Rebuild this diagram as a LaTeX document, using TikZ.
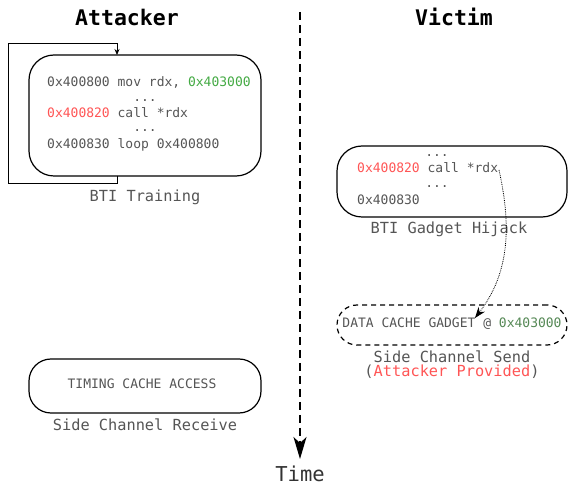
\documentclass[tikz,border=0pt]{standalone}
\usepackage{fontspec}
\setmonofont{DejaVu Sans Mono}
\usetikzlibrary{arrows.meta}
\definecolor{tgray}{HTML}{555555}
\definecolor{tred}{HTML}{FF5555}
\definecolor{tgreen}{HTML}{44AA44}
\definecolor{dgreen}{HTML}{558855}
\tikzset{
  codebox/.style={draw=black, line width=1.2pt, rounded corners=25pt},
  code/.style={font=\ttfamily\fontsize{13}{15}\selectfont, text=tgray, inner sep=0pt, anchor=west},
  codec/.style={font=\ttfamily\fontsize{13}{15}\selectfont, text=tgray, inner sep=0pt},
  lbl/.style={font=\ttfamily\fontsize{15.3}{17}\selectfont, text=tgray, inner sep=0pt},
  title/.style={font=\ttfamily\bfseries\fontsize{21.5}{23}\selectfont, inner sep=0pt},
}
\begin{document}
\begin{tikzpicture}[x=1pt,y=-1pt]
\useasboundingbox (0,0) rectangle (568,486);
% titles
\node[title] (att) at (127,17) {Attacker};
\node[title] (vic) at (454,17) {Victim};
% time axis
\coordinate (tstart) at (300,12);
\coordinate (tend) at (300,459);
\draw[line width=1.2pt, dash pattern=on 8pt off 5pt, -{Stealth[length=22pt,width=13pt,inset=6pt]}] (tstart) -- (tend);
\node[font=\ttfamily\fontsize{20.5}{22}\selectfont, text=tgray!60!black, inner sep=0pt] (time) at (300,474) {Time};
% box 1
\node[codebox, minimum width=232pt, minimum height=121pt] (b1) at (145,115.5) {};
\node[code] (l1) at (47,82) {0x400800 mov rdx, \textcolor{tgreen}{0x403000}};
\node[codec] (l2) at (145,101) {...};
\node[code] (l3) at (47,113) {\textcolor{tred}{0x400820} call *rdx};
\node[codec] (l4) at (145,131) {...};
\node[code] (l5) at (47,145) {0x400830 loop 0x400800};
\node[lbl] (lb1) at (145,197) {BTI Training};
\coordinate (lp1) at (117,176);
\coordinate (lp2) at (117,55);
\draw[line width=0.8pt, -{Stealth[length=6pt,width=5pt]}] (lp1) -- (117,183) -- (8,183) -- (8,43) -- (117,43) -- (lp2);
% box 2
\node[codebox, minimum width=230pt, minimum height=71pt] (b2) at (452,181.5) {};
\node[codec] (m1) at (437,156) {...};
\node[code] (m2) at (357,168) {\textcolor{tred}{0x400820} call *rdx};
\node[codec] (m3) at (437,187) {...};
\node[code] (m4) at (357,200) {0x400830};
\node[lbl] (lb2) at (449,229) {BTI Gadget Hijack};
% dashed gadget
\node[draw=black, line width=1.2pt, dash pattern=on 5pt off 4pt, rounded corners=20pt, minimum width=230pt, minimum height=40pt] (b3) at (452,325) {};
\node[codec] (g1) at (452,324) {DATA CACHE GADGET @ \textcolor{dgreen}{0x403000}};
\node[lbl] (lb3) at (452,357) {Side Channel Send};
\node[lbl] (lb3b) at (452,372) {(\textcolor{tred}{Attacker Provided})};
\coordinate (cs) at (499,170);
\coordinate (ce) at (475,318);
\draw[line width=0.8pt, densely dotted, -{Stealth[length=11pt,width=8pt]}] (cs) .. controls (510,220) and (512,270) .. (ce);
% box 4
\node[codebox, rounded corners=22pt, minimum width=232pt, minimum height=54pt] (b4) at (145,386) {};
\node[codec] (t1) at (142,384) {TIMING CACHE ACCESS};
\node[lbl] (lb4) at (145,425) {Side Channel Receive};
\end{tikzpicture}
\end{document}
